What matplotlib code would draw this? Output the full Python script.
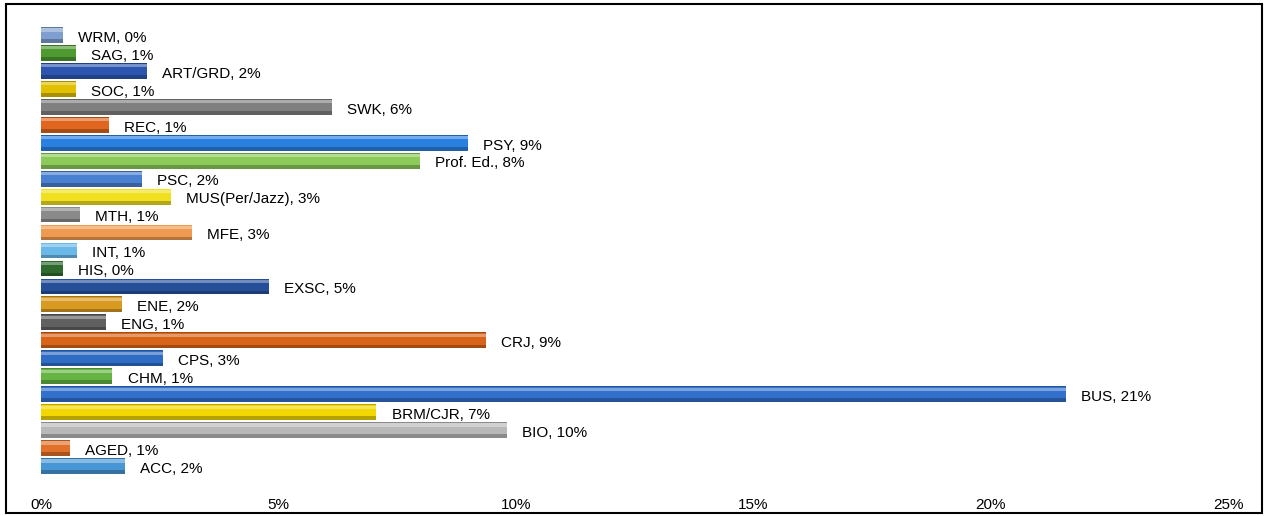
import matplotlib.pyplot as plt
from matplotlib.patches import Rectangle
import matplotlib.colors as mcolors
import numpy as np

# data (bottom to top)
categories = ['ACC', 'AGED', 'BIO', 'BRM/CJR', 'BUS', 'CHM', 'CPS', 'CRJ', 'ENG', 'ENE',
              'EXSC', 'HIS', 'INT', 'MFE', 'MTH', 'MUS(Per/Jazz)', 'PSC', 'Prof. Ed.', 'PSY',
              'REC', 'SWK', 'SOC', 'ART/GRD', 'SAG', 'WRM']
values = [1.77, 0.61, 9.81, 7.06, 21.59, 1.50, 2.57, 9.37, 1.37, 1.71,
          4.80, 0.46, 0.76, 3.18, 0.82, 2.74, 2.13, 7.98, 8.99,
          1.43, 6.13, 0.74, 2.23, 0.74, 0.46]
pct_labels = ['2%', '1%', '10%', '7%', '21%', '1%', '3%', '9%', '1%', '2%',
              '5%', '0%', '1%', '3%', '1%', '3%', '2%', '8%', '9%',
              '1%', '6%', '1%', '2%', '1%', '0%']
colors = ['#4796D6', '#E0702A', '#B8B8B8', '#F2D700', '#3370CC', '#66B544', '#2F6CC4',
          '#D8641A', '#606060', '#D89A20', '#264F9A', '#2E6A2E', '#6AB8E8', '#EE9A50',
          '#8A8A8A', '#F0E020', '#4A80D0', '#8CCB5A', '#2A80E0', '#E0651E', '#808080',
          '#E0C000', '#2D55B0', '#4F9A30', '#7F9FD0']

plt.rcParams['font.family'] = ['Liberation Sans', 'DejaVu Sans']

fig = plt.figure(figsize=(12.66, 5.16), dpi=100)
ax = fig.add_axes([0.0324, 0.069, 0.9376, 0.8876])

y = np.arange(len(categories))
h = 0.88


def mix(c, other, t):
    a = np.array(mcolors.to_rgb(c))
    b = np.array(mcolors.to_rgb(other))
    return tuple(a * (1 - t) + b * t)


for i, (v, c) in enumerate(zip(values, colors)):
    # base body, darker lower part, lighter highlight on top
    ax.barh(i, v, height=h, color=mix(c, 'black', 0.25), edgecolor='none')
    ax.barh(i + 0.08, v, height=h * 0.72, color=c, edgecolor='none')
    ax.barh(i + 0.28, v, height=h * 0.2, color=mix(c, 'white', 0.35), edgecolor='none')
    ax.annotate(f'{categories[i]}, {pct_labels[i]}', (v, i), xytext=(11, -2),
                textcoords='offset points', va='center', ha='left', fontsize=11)

ax.set_xlim(0, 25)
ax.set_ylim(-0.8, 24.7)
ax.set_xticks([0, 5, 10, 15, 20, 25])
ax.set_xticklabels(['0%', '5%', '10%', '15%', '20%', '25%'], fontsize=11)
ax.tick_params(axis='x', length=0, pad=13)
ax.set_yticks([])
for s in ax.spines.values():
    s.set_visible(False)

# outer border
fig.patches.append(Rectangle((6 / 1266, 3 / 516), 1256 / 1266, 509 / 516,
                             transform=fig.transFigure, fill=False,
                             edgecolor='black', linewidth=1.5))

fig.savefig('out.png', dpi=100)
